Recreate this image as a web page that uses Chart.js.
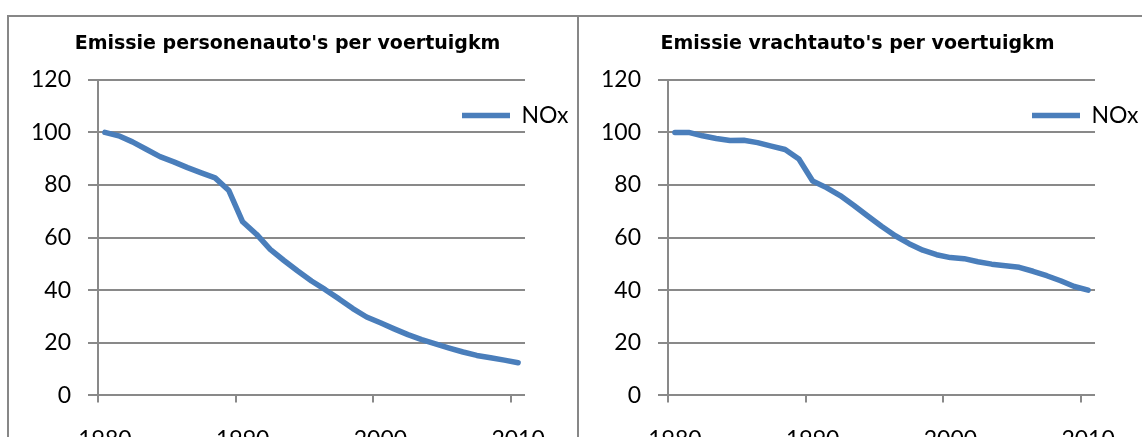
<!DOCTYPE html>
<html lang="nl">

<head>
  <meta charset="UTF-8">
  <title>Emissie per voertuigkm</title>
  <style>
    html, body { margin: 0; background: #fff; overflow: hidden; }
    .panel { position: absolute; top: 15px; width: 570px; height: 475px; box-sizing: border-box; border: 2px solid #878787; }
    #p1 { left: 7px; border-right: none; }
    #p2 { left: 577px; }
    .box { position: relative; width: 566px; height: 463px; }
  </style>
</head>

<body>
  <div class="panel" id="p1"><div class="box"><canvas id="chart1"></canvas></div></div>
  <div class="panel" id="p2"><div class="box"><canvas id="chart2"></canvas></div></div>

<script src="https://cdn.jsdelivr.net/npm/chart.js"></script>
<script>
  // years 1980 - 2010
  const years = ['1980', '1981', '1982', '1983', '1984', '1985', '1986', '1987', '1988', '1989',
    '1990', '1991', '1992', '1993', '1994', '1995', '1996', '1997', '1998', '1999',
    '2000', '2001', '2002', '2003', '2004', '2005', '2006', '2007', '2008', '2009', '2010']

  // NOx index (1980 = 100)
  const noxCars = [100, 98.7, 96.4, 93.6, 90.8, 88.8, 86.6, 84.6, 82.7, 77.9,
    66, 61.3, 55.5, 51.3, 47.3, 43.5, 40.2, 36.7, 33, 29.8,
    27.6, 25.3, 23.1, 21.2, 19.6, 18, 16.5, 15.2, 14.3, 13.4, 12.4]
  const noxTrucks = [100, 100, 98.7, 97.7, 96.9, 97, 96.1, 94.8, 93.5, 89.9,
    81.5, 79, 76, 72.2, 68.2, 64.3, 60.7, 57.7, 55.2, 53.5,
    52.4, 52, 50.8, 49.9, 49.3, 48.7, 47.2, 45.5, 43.6, 41.4, 40]

  const yTicks = [0, 20, 40, 60, 80, 100, 120]
  const seriesLabel = 'NOx'

  const gridGray = '#898989'
  const tickFont = { family: 'Lato', size: 23 }

  // Excel style: legend sits over the right part of the plot
  const placeLegend = {
    id: 'placeLegend',
    afterLayout(chart) {
      const lg = chart.legend
      const w = lg.width, h = lg.height
      lg.left = 443
      lg.right = lg.left + w
      lg.top = 77
      lg.bottom = lg.top + h
      const t = chart.titleBlock
      t.left += 18
      t.right += 18
    }
  }

  function makeChart(id, title, values) {
    return new Chart(document.getElementById(id), {
      type: 'line',
      data: {
        labels: years,
        datasets: [{
          label: seriesLabel,
          data: values,
          borderColor: '#4A7EBB',
          backgroundColor: '#4A7EBB',
          borderWidth: 5.5,
          borderCapStyle: 'round',
          borderJoinStyle: 'round',
          pointRadius: 0,
          tension: 0
        }]
      },
      options: {
        responsive: true,
        maintainAspectRatio: false,
        animation: false,
        devicePixelRatio: 1,
        layout: { padding: { left: 5, right: 50, top: 0, bottom: 4 } },
        plugins: {
          title: {
            display: true,
            text: title,
            color: '#000',
            font: { family: 'DejaVu Sans', size: 19, weight: 'bold' },
            padding: { top: 16, bottom: 24 }
          },
          legend: {
            position: 'chartArea',
            align: 'start',
            labels: {
              usePointStyle: true,
              pointStyle: 'line',
              pointStyleWidth: 48,
              color: '#000',
              font: tickFont
            }
          },
          tooltip: { enabled: false }
        },
        scales: {
          x: {
            type: 'category',
            offset: true,
            border: { display: false },
            grid: {
              offset: true,
              drawOnChartArea: false,
              tickLength: 7,
              lineWidth: 2,
              color: ctx => ctx.index % 10 === 0 ? gridGray : 'rgba(0,0,0,0)'
            },
            ticks: {
              autoSkip: false,
              maxRotation: 0,
              padding: 23,
              color: '#000',
              font: tickFont,
              callback: (v, i) => i % 10 === 0 ? years[i] : ''
            },
            afterFit: s => { s.paddingLeft = 0; s.paddingRight = 0 }
          },
          y: {
            min: yTicks[0],
            max: yTicks[yTicks.length - 1],
            border: { color: gridGray, width: 2 },
            grid: { color: gridGray, lineWidth: 2, tickLength: 10 },
            ticks: { stepSize: 20, padding: 17, color: '#000', font: tickFont }
          }
        }
      },
      plugins: [placeLegend]
    })
  }

  makeChart('chart1', "Emissie personenauto's per voertuigkm", noxCars)
  makeChart('chart2', "Emissie vrachtauto's per voertuigkm", noxTrucks)
</script>
</body>

</html>
